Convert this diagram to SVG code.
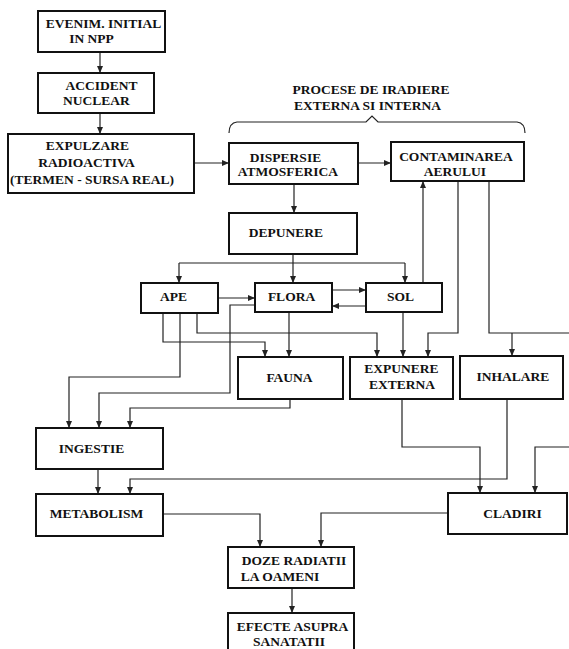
<svg xmlns="http://www.w3.org/2000/svg" width="569" height="649" viewBox="0 0 569 649">
<style>
.box{fill:#fff;stroke:#111;stroke-width:2}
.t{font-family:"Liberation Serif","Times New Roman",serif;font-weight:bold;font-size:13.5px;fill:#111;text-anchor:middle}
.c{fill:none;stroke:#222;stroke-width:1.2}
.ca{fill:none;stroke:#222;stroke-width:1.2;marker-end:url(#ah)}
</style>
<defs>
<marker id="ah" markerUnits="userSpaceOnUse" markerWidth="8" markerHeight="7" refX="7" refY="3" orient="auto">
<path d="M0,0 L7,3 L0,6 z" fill="#222"/>
</marker>
</defs>
<rect width="569" height="649" fill="#fff"/>
<g id="connectors">
<path class="ca" d="M100,52 V73"/>
<path class="ca" d="M100,113 V134"/>
<path class="ca" d="M194,163 H229"/>
<path class="ca" d="M358,163 H391"/>
<path class="ca" d="M294,184 V213"/>
<path class="c" d="M293,254 V263"/>
<path class="c" d="M179,263 H405"/>
<path class="ca" d="M179,263 V283"/>
<path class="ca" d="M293,263 V283"/>
<path class="ca" d="M405,263 V283"/>
<path class="ca" d="M218,298 H255"/>
<path class="ca" d="M332,290 H366"/>
<path class="ca" d="M366,306 H332"/>
<path class="ca" d="M423,283 V181"/>
<path class="ca" d="M458,181 V333 H428 V357"/>
<path class="c" d="M489,181 V333 H569"/>
<path class="ca" d="M512,333 V356"/>
<path class="ca" d="M197,313 V333 H377 V357"/>
<path class="ca" d="M163,313 V342 H265 V357"/>
<path class="ca" d="M289,312 V357"/>
<path class="ca" d="M403,312 V357"/>
<path class="ca" d="M180,313 V377 H69 V428"/>
<path class="ca" d="M255,305 H230 V393 H99 V428"/>
<path class="ca" d="M290,399 V408 H130 V428"/>
<path class="ca" d="M98,469 V494"/>
<path class="ca" d="M507,399 V479 H130 V494"/>
<path class="ca" d="M402,399 V447 H480 V493"/>
<path class="ca" d="M569,447 H535 V493"/>
<path class="ca" d="M163,514 H260 V547"/>
<path class="ca" d="M448,513 H321 V547"/>
<path class="ca" d="M292,588 V613"/>
<path class="c" d="M229,133 Q229,123 237,122 H366 L372,116 L378,122 H517 Q525,123 525,133"/>
</g>
<g id="title">
<text class="t" x="371" y="94">PROCESE DE IRADIERE</text>
<text class="t" x="367.5" y="110">EXTERNA SI INTERNA</text>
</g>
<g id="n-evenim"><rect class="box" x="38" y="11" width="127" height="41"/>
<text class="t" x="103.5" y="28">EVENIM. INITIAL</text><text class="t" x="91.5" y="43">IN  NPP</text></g>
<g id="n-accident"><rect class="box" x="38" y="73" width="116" height="40"/>
<text class="t" x="101.5" y="90">ACCIDENT</text><text class="t" x="96.5" y="105">NUCLEAR</text></g>
<g id="n-expulzare"><rect class="box" x="8" y="134" width="186" height="59"/>
<text class="t" x="87.5" y="150">EXPULZARE</text><text class="t" x="86.5" y="167">RADIOACTIVA</text><text class="t" x="92" y="184">(TERMEN - SURSA REAL)</text></g>
<g id="n-dispersie"><rect class="box" x="229" y="143" width="129" height="41"/>
<text class="t" x="285.5" y="162">DISPERSIE</text><text class="t" x="288" y="176">ATMOSFERICA</text></g>
<g id="n-contaminarea"><rect class="box" x="391" y="142" width="133" height="39"/>
<text class="t" x="456" y="161">CONTAMINAREA</text><text class="t" x="455" y="176">AERULUI</text></g>
<g id="n-depunere"><rect class="box" x="229" y="213" width="128" height="41"/>
<text class="t" x="286" y="237">DEPUNERE</text></g>
<g id="n-ape"><rect class="box" x="141" y="283" width="77" height="30"/>
<text class="t" x="173.5" y="301">APE</text></g>
<g id="n-flora"><rect class="box" x="255" y="283" width="77" height="29"/>
<text class="t" x="291.5" y="301">FLORA</text></g>
<g id="n-sol"><rect class="box" x="366" y="283" width="76" height="29"/>
<text class="t" x="400.5" y="301">SOL</text></g>
<g id="n-fauna"><rect class="box" x="238" y="357" width="105" height="42"/>
<text class="t" x="289.5" y="382">FAUNA</text></g>
<g id="n-expunere"><rect class="box" x="350" y="357" width="103" height="42"/>
<text class="t" x="401.5" y="373">EXPUNERE</text><text class="t" x="402" y="389">EXTERNA</text></g>
<g id="n-inhalare"><rect class="box" x="460" y="356" width="103" height="43"/>
<text class="t" x="513" y="381">INHALARE</text></g>
<g id="n-ingestie"><rect class="box" x="36" y="428" width="127" height="41"/>
<text class="t" x="91.5" y="453">INGESTIE</text></g>
<g id="n-metabolism"><rect class="box" x="36" y="494" width="127" height="42"/>
<text class="t" x="96.5" y="518">METABOLISM</text></g>
<g id="n-cladiri"><rect class="box" x="448" y="493" width="119" height="41"/>
<text class="t" x="512.5" y="518">CLADIRI</text></g>
<g id="n-doze"><rect class="box" x="228" y="547" width="126" height="41"/>
<text class="t" x="294" y="565">DOZE RADIATII</text><text class="t" x="280" y="581">LA OAMENI</text></g>
<g id="n-efecte"><rect class="box" x="228" y="613" width="126" height="40"/>
<text class="t" x="292.5" y="631">EFECTE ASUPRA</text><text class="t" x="289" y="646">SANATATII</text></g>
</svg>
